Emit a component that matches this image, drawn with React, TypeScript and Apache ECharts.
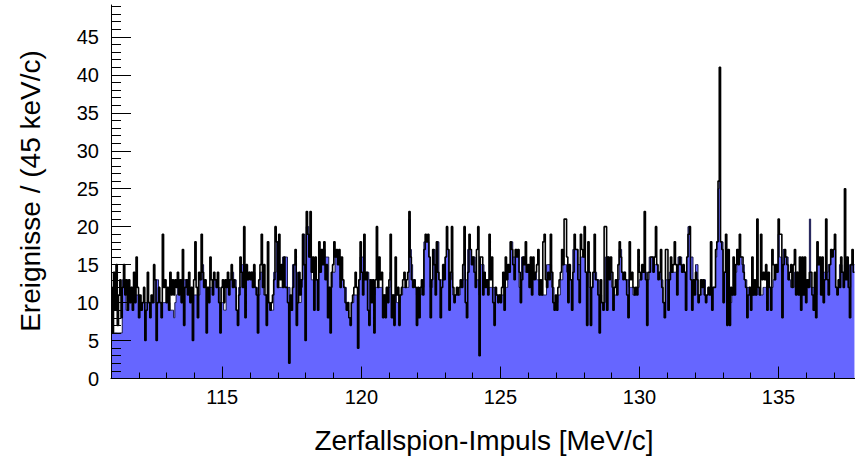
import React, { useEffect, useRef } from "react";
import * as echarts from "echarts";

const BIN_START = 111.0;
const BIN_WIDTH = 0.045;

// black outline histogram (counts per 45 keV/c bin)
const blackCounts = [
  12, 6, 14, 9, 15, 7, 11, 13, 8, 12,
  15, 11, 13, 9, 13, 10, 12, 9, 14, 10,
  16, 12, 8, 11, 9, 10, 12, 5, 9, 14,
  10, 8, 11, 10, 15, 13, 5, 10, 12, 10,
  8, 19, 12, 13, 10, 12, 9, 14, 11,
  13, 11, 13, 12, 14, 11, 13, 10, 17, 7,
  12, 13, 11, 14, 10, 12, 5, 13, 18, 12,
  8, 14, 13, 19, 14, 12, 13, 6, 12, 10,
  16, 13, 11, 14, 13, 12, 14, 10, 6, 12,
  13, 10, 13, 12, 14, 11, 13, 15, 12,
  13, 12, 9, 7, 11, 16, 14, 12, 20, 8,
  15, 13, 14, 13, 14, 12, 15, 12, 11, 6,
  13, 15, 19, 12, 15, 11, 7, 18, 10, 9,
  10, 11, 13, 20, 18, 12, 19, 13, 15, 12,
  16, 12, 12, 10, 2, 11, 9, 12, 15,
  17, 7, 10, 14, 11, 13, 19, 15, 5, 22,
  19, 16, 22, 14, 16, 9, 16, 13, 9, 18,
  14, 17, 15, 18, 13, 15, 8, 12, 6, 14,
  15, 18, 16, 17, 15, 17, 12, 16, 13, 12,
  10, 9, 10, 8, 7, 10, 11, 12, 14,
  12, 4, 13, 18, 14, 11, 19, 13, 14, 9,
  7, 13, 10, 13, 6, 13, 20, 12, 16, 13,
  14, 8, 11, 8, 12, 10, 13, 19, 8, 11,
  7, 16, 11, 12, 7, 11, 12, 13, 14, 12,
  13, 14, 22, 16, 13, 12, 13, 12, 7, 12,
  8, 12, 13, 11, 17, 19, 18, 19, 16, 8,
  13, 17, 15, 11, 18, 14, 13, 8, 12, 15,
  13, 16, 20, 17, 9, 14, 20, 12, 10, 11,
  12, 11, 12, 13, 12, 15, 20, 10, 8, 14,
  19, 17, 15, 16, 14, 12, 17, 20, 3, 16,
  16, 11, 14, 12, 13, 11, 19, 13, 16, 10,
  7, 12, 11, 10, 11, 10, 12, 14, 9, 16,
  13, 15, 14, 18, 17, 15, 13, 17, 16, 17,
  14, 10, 13, 16, 15, 18, 14, 15, 12, 16,
  11, 16, 13, 14, 15, 17, 11, 13, 11, 18,
  19, 13, 12, 14, 13, 19, 14, 10, 9, 11,
  9, 12, 13, 14, 17, 15, 21, 21, 16, 10,
  15, 13, 9, 14, 19, 17, 17, 13, 10, 19,
  17, 16, 20, 14, 7, 18, 14, 7, 12, 14,
  19, 13, 13, 11, 6, 13, 10, 9, 20,
  20, 9, 16, 13, 16, 14, 9, 12, 13, 11,
  15, 18, 16, 14, 13, 14, 13, 11, 8, 18,
  13, 14, 12, 11, 12, 11, 17, 14, 13, 15,
  14, 22, 13, 7, 14, 14, 16, 16, 14, 16,
  20, 15, 13, 14, 17, 12, 10, 8, 17,
  17, 9, 13, 16, 14, 15, 18, 15, 11, 15,
  16, 15, 14, 15, 14, 9, 16, 19, 20, 13,
  9, 13, 11, 14, 13, 10, 11, 13, 12, 13,
  11, 10, 11, 12, 11, 18, 9, 12, 12, 17,
  18, 26, 41, 18, 17, 10, 14, 19, 7,
  17, 7, 12, 11, 16, 11, 15, 17, 15, 19,
  16, 16, 14, 13, 12, 8, 11, 12, 9, 16,
  11, 13, 11, 21, 12, 11, 19, 13, 14, 13,
  15, 9, 14, 12, 9, 17, 15, 13, 15, 14,
  21, 19, 19, 8, 15, 17, 16, 15, 13, 14,
  15, 12, 15, 17, 11, 14, 11, 16, 9, 16,
  11, 16, 10, 13, 12, 14, 14, 11, 9, 14,
  8, 18, 15, 16, 11, 16, 10, 13, 21, 13,
  11, 15, 17, 16, 17, 19, 12, 11, 13, 12,
  16, 14, 12, 25, 13, 16, 12, 8, 15, 17,
  14,
];

// blue filled histogram
const blueCounts = [
  6, 6, 6, 6, 6, 6, 6, 6, 6, 13,
  13, 13, 9, 9, 12, 12, 12, 12, 12, 11,
  11, 11, 11, 10, 10, 10, 10, 10, 10, 10,
  10, 10, 10, 10, 10, 13, 13, 13, 10, 10,
  10, 10, 10, 10, 10, 10, 10, 9, 9,
  9, 8, 10, 11, 12, 12, 12, 13, 13, 13,
  13, 13, 13, 12, 12, 11, 10, 11, 11, 11,
  11, 11, 13, 13, 15, 12, 12, 12, 12, 12,
  12, 12, 13, 13, 13, 13, 12, 12, 10, 10,
  10, 9, 9, 12, 12, 13, 13, 14, 14,
  13, 13, 9, 9, 12, 12, 15, 15, 13, 13,
  13, 13, 14, 14, 14, 14, 14, 12, 12, 11,
  11, 14, 14, 14, 11, 11, 11, 10, 10, 9,
  9, 9, 14, 14, 18, 12, 12, 12, 12, 16,
  16, 16, 16, 12, 12, 9, 9, 15, 15,
  15, 14, 10, 10, 10, 12, 19, 19, 13, 20,
  20, 16, 16, 13, 13, 13, 13, 13, 13, 15,
  15, 17, 17, 17, 16, 16, 16, 12, 12, 12,
  14, 14, 16, 16, 16, 16, 13, 13, 13, 12,
  12, 9, 9, 8, 8, 10, 10, 11, 11,
  11, 11, 13, 16, 16, 16, 14, 14, 14, 14,
  13, 13, 13, 11, 11, 12, 12, 12, 12, 12,
  12, 11, 11, 11, 12, 12, 12, 14, 11, 11,
  11, 11, 10, 10, 10, 11, 11, 12, 12, 12,
  12, 12, 21, 17, 15, 13, 13, 12, 11, 11,
  11, 11, 12, 12, 18, 18, 18, 18, 16, 12,
  12, 17, 17, 13, 18, 18, 13, 13, 13, 13,
  14, 16, 17, 17, 13, 13, 14, 11, 11, 11,
  11, 11, 11, 12, 12, 13, 15, 13, 13, 17,
  17, 17, 16, 16, 16, 14, 13, 13, 11, 15,
  15, 15, 13, 13, 13, 12, 12, 12, 12, 12,
  12, 11, 11, 11, 11, 11, 11, 11, 12, 12,
  12, 14, 14, 18, 18, 16, 16, 17, 17, 17,
  12, 12, 16, 16, 16, 14, 14, 14, 14, 14,
  14, 14, 14, 14, 13, 13, 11, 11, 11, 11,
  11, 11, 15, 15, 15, 15, 12, 12, 10, 10,
  10, 11, 11, 13, 13, 15, 15, 15, 14, 14,
  13, 13, 13, 17, 17, 17, 17, 15, 15, 16,
  16, 16, 16, 14, 14, 14, 12, 12, 12, 14,
  14, 14, 13, 13, 11, 11, 10, 10, 10,
  16, 16, 16, 14, 14, 12, 12, 11, 11, 13,
  13, 17, 17, 14, 14, 14, 13, 13, 13, 12,
  12, 12, 11, 11, 11, 12, 12, 13, 13, 14,
  14, 14, 14, 13, 13, 16, 16, 16, 16, 15,
  15, 15, 14, 14, 13, 13, 10, 10, 13,
  13, 13, 14, 14, 14, 14, 14, 14, 14, 16,
  16, 16, 14, 14, 14, 14, 16, 20, 20, 16,
  16, 12, 12, 15, 15, 11, 11, 11, 13, 13,
  13, 11, 11, 12, 12, 12, 12, 12, 12, 16,
  18, 25, 26, 18, 18, 14, 14, 14, 14,
  10, 10, 10, 11, 11, 14, 14, 17, 17, 16,
  16, 15, 15, 13, 13, 12, 12, 12, 11, 11,
  11, 11, 11, 12, 12, 11, 11, 11, 12, 12,
  12, 12, 12, 12, 12, 12, 13, 13, 15, 15,
  19, 16, 16, 14, 17, 17, 16, 16, 13, 13,
  12, 12, 12, 14, 14, 14, 12, 12, 12, 12,
  12, 12, 12, 12, 13, 21, 12, 12, 12, 11,
  11, 15, 15, 15, 14, 14, 14, 14, 14, 14,
  15, 15, 17, 17, 17, 17, 12, 12, 12, 15,
  15, 14, 14, 15, 15, 15, 15, 12, 15, 15,
  15,
];

const xMajorTicks = [115, 120, 125, 130, 135];
const xMinorTicks = [112, 113, 114, 116, 117, 118, 119, 121, 122, 123, 124, 126, 127, 128, 129, 131, 132, 133, 134, 136, 137];
const yMajorTicks = [0, 5, 10, 15, 20, 25, 30, 35, 40, 45];
const yMinorTicks = [1, 2, 3, 4, 6, 7, 8, 9, 11, 12, 13, 14, 16, 17, 18, 19, 21, 22, 23, 24, 26, 27, 28, 29, 31, 32, 33, 34, 36, 37, 38, 39, 41, 42, 43, 44, 46, 47, 48, 49];

const X_MIN = 111.0;
const X_MAX = 137.75;
const Y_MAX = 49.2;

const xTitle = "Zerfallspion-Impuls [MeV/c]";
const yTitle = "Ereignisse / (45 keV/c)";

function stepData(counts: number[]): number[][] {
  const pts = counts.map((v, i) => [BIN_START + i * BIN_WIDTH, v]);
  pts.push([BIN_START + counts.length * BIN_WIDTH, counts[counts.length - 1]]);
  return pts;
}

const FONT = "Liberation Sans, Arial, sans-serif";

export default function App() {
  const ref = useRef<HTMLDivElement>(null);
  useEffect(() => {
    if (!ref.current) return;
    const chart = echarts.init(ref.current, undefined, { renderer: "svg" });
    const axisLine = { show: true, lineStyle: { color: "#000", width: 1 } };
    chart.setOption({
      animation: false,
      backgroundColor: "#fff",
      grid: { left: 111, right: 0, top: 5, bottom: 80.5, containLabel: false },
      xAxis: [
        {
          type: "value",
          min: X_MIN,
          max: X_MAX,
          position: "bottom",
          z: 10,
          axisLine,
          axisTick: { show: true, inside: true, length: 12, customValues: xMajorTicks, lineStyle: { color: "#000" } },
          axisLabel: { customValues: xMajorTicks, color: "#000", fontSize: 20, fontFamily: FONT, margin: 8 },
          splitLine: { show: false },
        },
        {
          type: "value",
          min: X_MIN,
          max: X_MAX,
          position: "bottom",
          offset: 0,
          z: 10,
          axisLine: { show: false },
          axisTick: { show: true, inside: true, length: 6, customValues: xMinorTicks, lineStyle: { color: "#000" } },
          axisLabel: { show: false },
          splitLine: { show: false },
        },
      ],
      yAxis: [
        {
          type: "value",
          min: 0,
          max: Y_MAX,
          position: "left",
          z: 10,
          axisLine,
          axisTick: { show: true, inside: true, length: 20, customValues: yMajorTicks, lineStyle: { color: "#000" } },
          axisLabel: { customValues: yMajorTicks, color: "#000", fontSize: 20, fontFamily: FONT, margin: 12 },
          splitLine: { show: false },
        },
        {
          type: "value",
          min: 0,
          max: Y_MAX,
          position: "left",
          offset: 0,
          z: 10,
          axisLine: { show: false },
          axisTick: { show: true, inside: true, length: 10, customValues: yMinorTicks, lineStyle: { color: "#000" } },
          axisLabel: { show: false },
          splitLine: { show: false },
        },
      ],
      series: [
        {
          type: "line",
          step: "end",
          data: stepData(blueCounts),
          xAxisIndex: 0,
          yAxisIndex: 0,
          showSymbol: false,
          symbol: "none",
          silent: true,
          z: 2,
          lineStyle: { color: "#1a1a4a", width: 1 },
          areaStyle: { color: "#6666ff", opacity: 1 },
        },
        {
          type: "line",
          step: "end",
          data: stepData(blackCounts),
          xAxisIndex: 0,
          yAxisIndex: 0,
          showSymbol: false,
          symbol: "none",
          silent: true,
          z: 3,
          lineStyle: { color: "#000", width: 1.6 },
        },
      ],
      graphic: [
        {
          type: "text",
          x: 484,
          y: 440,
          style: { text: xTitle, fill: "#000", fontSize: 28, fontFamily: FONT, align: "center", verticalAlign: "middle" },
        },
        {
          type: "text",
          x: 30,
          y: 191,
          rotation: Math.PI / 2,
          style: { text: yTitle, fill: "#000", fontSize: 28, fontFamily: FONT, align: "center", verticalAlign: "middle" },
        },
      ],
    });
    return () => chart.dispose();
  }, []);
  return <div ref={ref} style={{ position: "fixed", left: 0, top: 0, width: 855, height: 459 }} />;
}
